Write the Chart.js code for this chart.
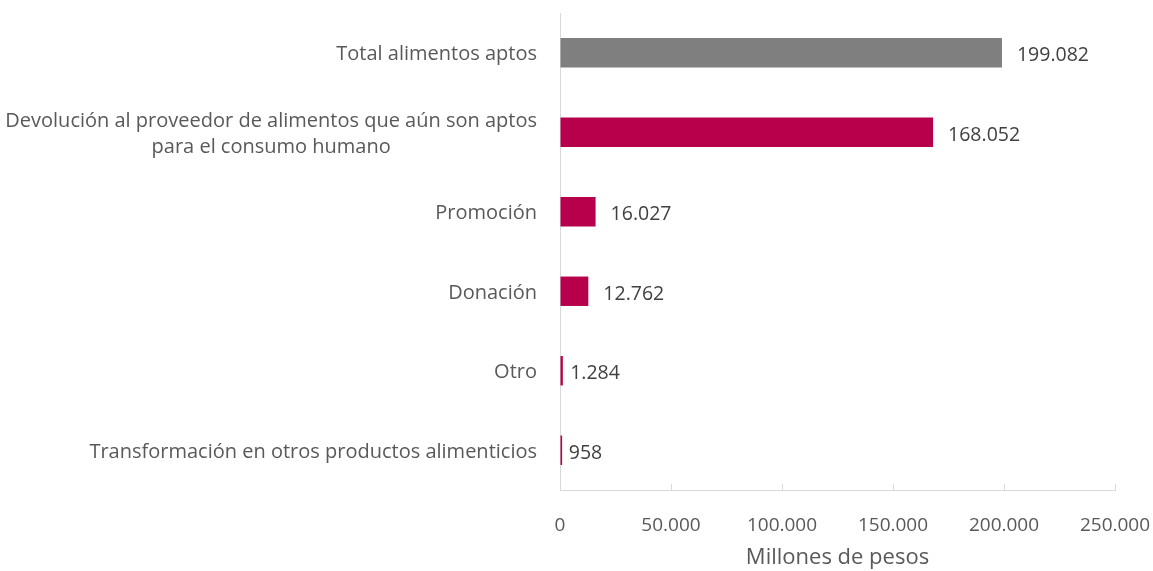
<!DOCTYPE html>
<html>
<head>
<meta charset="utf-8">
<script src="https://cdn.jsdelivr.net/npm/chart.js@4"></script>
<style>
  html, body { margin: 0; padding: 0; background: #fff; }
  #wrap { width: 1153px; height: 571px; }
</style>
</head>
<body>
<div id="wrap"><canvas id="chart" width="1153" height="571"></canvas></div>
<script>
// data
const categories = [
  ["Total alimentos aptos"],
  ["Devolución al proveedor de alimentos que aún son aptos", "para el consumo humano"],
  ["Promoción"],
  ["Donación"],
  ["Otro"],
  ["Transformación en otros productos alimenticios"]
];
const values = [199082, 168052, 16027, 12762, 1284, 958];
const barColors = ["#7f7f7f", "#b7004b", "#b7004b", "#b7004b", "#b7004b", "#b7004b"];
const xTicks = [0, 50000, 100000, 150000, 200000, 250000];
const axisTitle = "Millones de pesos";

const FONT = "'Open Sans', 'Noto Sans', sans-serif";
const fmt = n => String(n).replace(/\B(?=(\d{3})+(?!\d))/g, ".");

// category labels: right aligned block, lines centred inside it (like Excel)
const yLabels = {
  id: "yLabels",
  afterDraw(chart) {
    const ctx = chart.ctx;
    const y = chart.scales.y;
    const right = chart.chartArea.left - 23;
    ctx.save();
    ctx.font = "20px " + FONT;
    ctx.fillStyle = "#595959";
    ctx.textBaseline = "middle";
    ctx.textAlign = "center";
    categories.forEach((lines, i) => {
      const w = Math.max(...lines.map(l => ctx.measureText(l).width));
      const cx = right - w / 2;
      const lh = 26;
      const y0 = y.getPixelForTick(i) + 2 - (lines.length - 1) * lh / 2;
      lines.forEach((l, k) => ctx.fillText(l, cx, y0 + k * lh));
    });
    ctx.restore();
  }
};

// value labels at the end of the bars
const valueLabels = {
  id: "valueLabels",
  afterDatasetsDraw(chart) {
    const ctx = chart.ctx;
    const meta = chart.getDatasetMeta(0);
    ctx.save();
    ctx.font = "19.5px " + FONT;
    ctx.fillStyle = "#404040";
    ctx.textBaseline = "middle";
    ctx.textAlign = "left";
    meta.data.forEach((bar, i) => {
      const off = Math.min(15, 5 + (bar.x - bar.base));
      ctx.fillText(fmt(values[i]), bar.x + off, bar.y + 3);
    });
    ctx.restore();
  }
};

// small tick marks pointing up from the x axis line
const xTickMarks = {
  id: "xTickMarks",
  afterDraw(chart) {
    const ctx = chart.ctx;
    const x = chart.scales.x;
    const bottom = chart.chartArea.bottom;
    ctx.save();
    ctx.strokeStyle = "#d9d9d9";
    ctx.lineWidth = 1;
    x.ticks.forEach((t, i) => {
      if (i === 0) return;
      const px = Math.round(x.getPixelForTick(i)) + 0.5;
      ctx.beginPath();
      ctx.moveTo(px, bottom);
      ctx.lineTo(px, bottom - 6);
      ctx.stroke();
    });
    ctx.restore();
  }
};

new Chart(document.getElementById("chart"), {
  type: "bar",
  data: {
    labels: categories.map(c => c.join(" ")),
    datasets: [{
      data: values,
      backgroundColor: barColors,
      barPercentage: 0.37,
      categoryPercentage: 1
    }]
  },
  options: {
    indexAxis: "y",
    responsive: false,
    animation: false,
    layout: { padding: { top: 13, right: 0, bottom: 0, left: 0 } },
    plugins: {
      legend: { display: false },
      tooltip: { enabled: false }
    },
    scales: {
      x: {
        min: 0,
        max: 250000,
        afterBuildTicks: s => { s.ticks = xTicks.map(v => ({ value: v })); },
        grid: { display: true, drawOnChartArea: false, drawTicks: false },
        border: { display: true, color: "#d9d9d9", width: 1 },
        ticks: {
          padding: 24,
          color: "#595959",
          font: { family: FONT, size: 19 },
          callback: v => fmt(v)
        },
        title: {
          display: true,
          text: axisTitle,
          color: "#595959",
          font: { family: FONT, size: 22 },
          padding: { top: 6, bottom: 0 }
        },
        afterFit: s => { s.height = 81; s.paddingRight = 38; s.paddingLeft = 0; }
      },
      y: {
        grid: { display: false },
        border: { display: true, color: "#d9d9d9", width: 1 },
        ticks: { display: false },
        afterFit: s => { s.width = 560; }
      }
    }
  },
  plugins: [yLabels, valueLabels, xTickMarks]
});
</script>
</body>
</html>
